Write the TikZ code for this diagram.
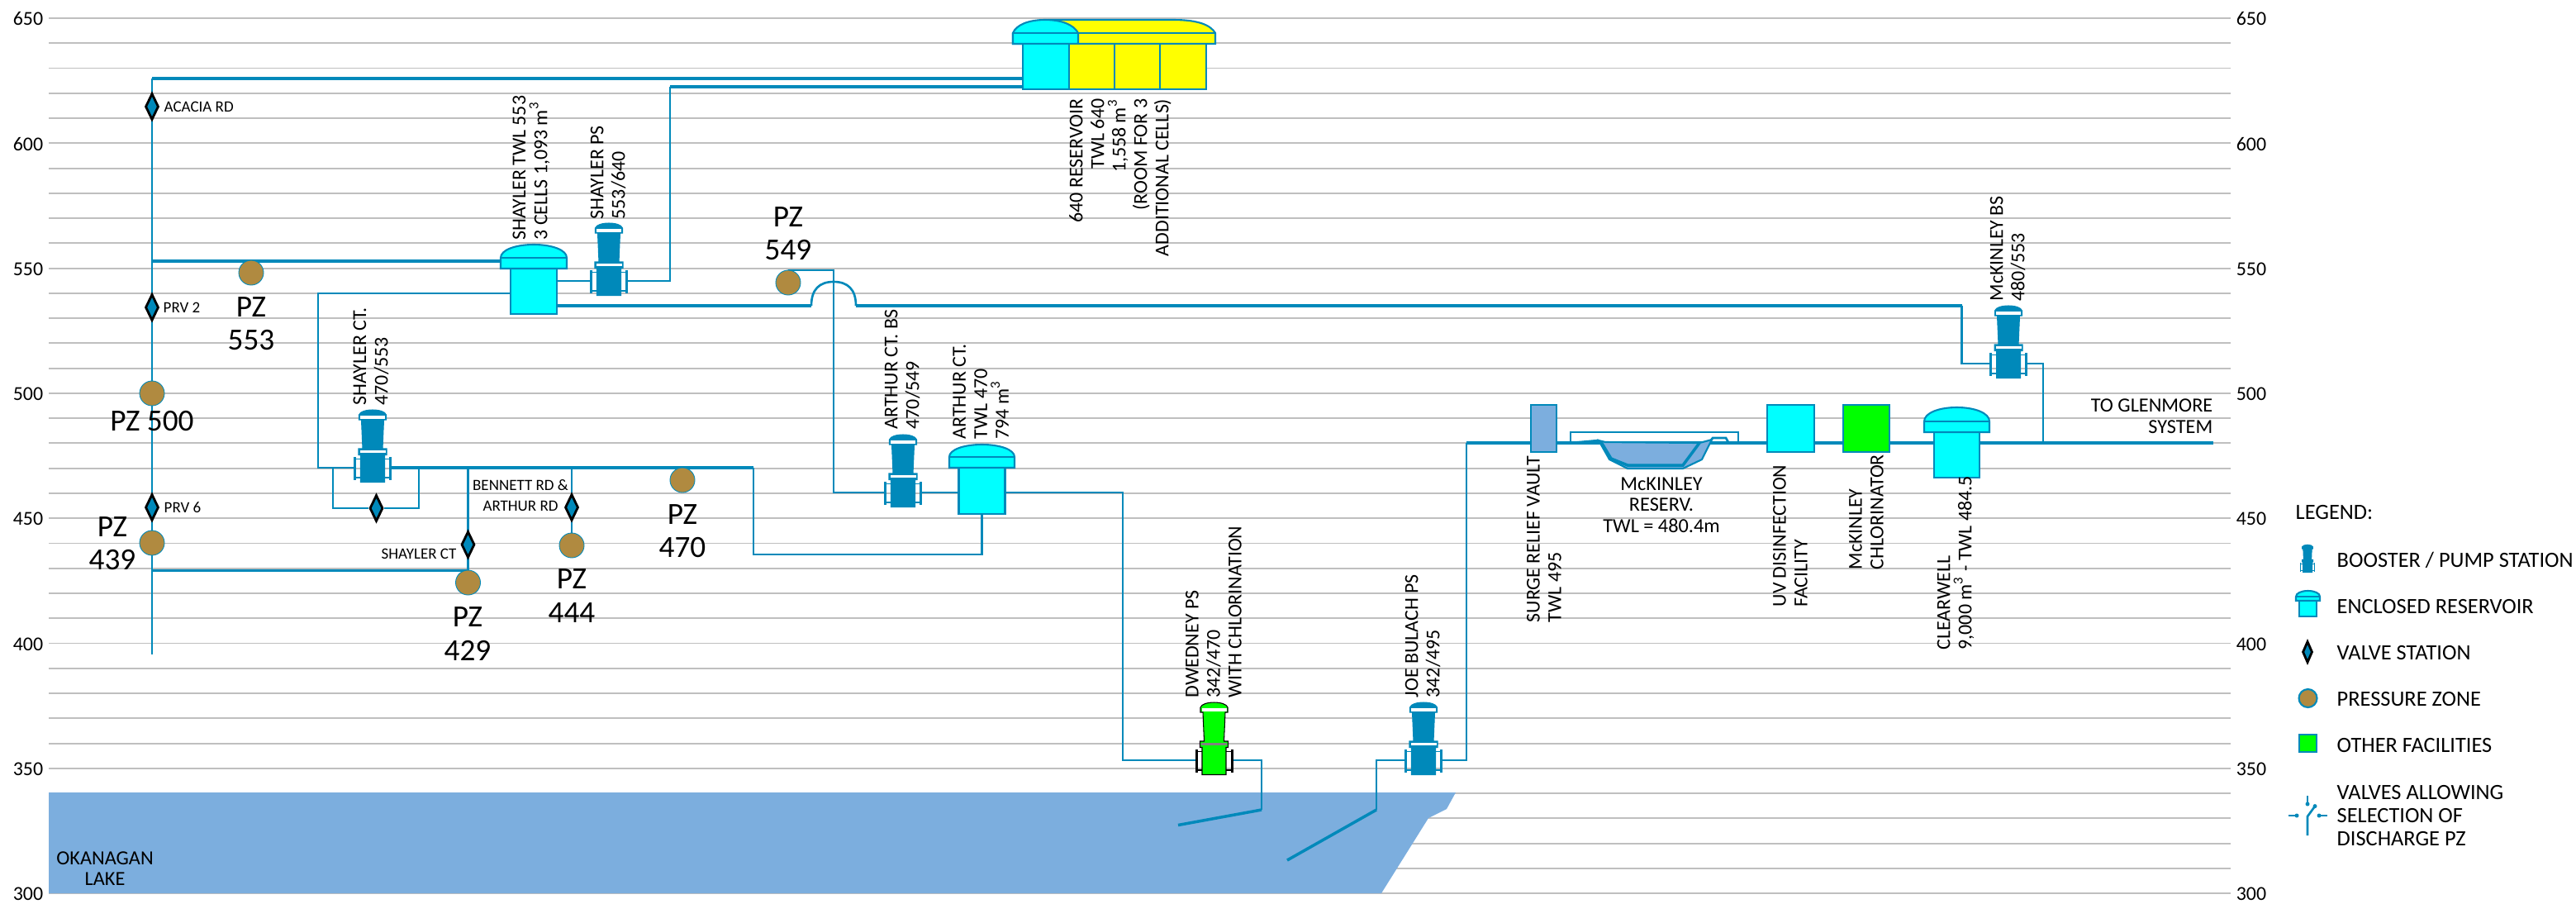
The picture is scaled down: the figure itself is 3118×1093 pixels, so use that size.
\documentclass[tikz,border=0pt]{standalone}
\usepackage{fontspec}
\setmainfont{Carlito}
\usetikzlibrary{calc,shapes.geometric}
\pgfdeclarelayer{back}
\pgfdeclarelayer{pipes}
\pgfsetlayers{back,pipes,main}
\definecolor{pipeblue}{HTML}{0089BA}
\definecolor{lakeblue}{HTML}{7CAEDE}
\definecolor{rescyan}{HTML}{00FFFF}
\definecolor{resyellow}{HTML}{FFFF00}
\definecolor{facgreen}{HTML}{00FF00}
\definecolor{pzbrown}{HTML}{B08A40}
\definecolor{gridgray}{HTML}{BFBFBF}
\tikzset{
  gridline/.style={draw=gridgray,line width=.55pt},
  pipe/.style={draw=pipeblue,line width=.75pt},
  mainpipe/.style={draw=pipeblue,line width=1pt},
  resline/.style={draw=pipeblue,line width=.6pt},
  pz/.style={circle,fill=pzbrown,draw=pipeblue,line width=.25pt,minimum size=.3cm,inner sep=0},
  valve/.style={diamond,aspect=.5,fill=pipeblue,draw=black,line width=.8pt,minimum width=.16cm,minimum height=.32cm,inner sep=0},
  facility/.style={rectangle,resline,inner sep=0,minimum width=#1},
  ticklbl/.style={font=\fontsize{6.8}{8}\selectfont},
  smalllbl/.style={font=\fontsize{5.4}{7.1}\selectfont,align=center},
  lbl/.style={font=\fontsize{6.9}{7.3}\selectfont,align=center},
  vlbl/.style={font=\fontsize{6.8}{7.4}\selectfont,rotate=90,align=left,anchor=west,inner sep=0},
  pzlbl/.style={font=\fontsize{10.6}{11.4}\selectfont,align=center},
  legendlbl/.style={font=\fontsize{7.5}{8}\selectfont,align=left,anchor=west,inner sep=0},
  pics/rsv/.style n args={5}{code={
    \filldraw[resline,fill=rescyan] (-#2,0) rectangle (#2,#5);
    \filldraw[resline,fill=rescyan] (-#1,0) -- (-#1,-#4) .. controls (-#1,{-#4-.6*#3}) and ({-.55*#1},{-#4-#3}) .. (0,{-#4-#3}) .. controls ({.55*#1},{-#4-#3}) and (#1,{-#4-.6*#3}) .. (#1,-#4) -- (#1,0) -- cycle;
    \draw[resline] (-#1,-#4) -- (#1,-#4);
    \coordinate (-w) at (-#2,0); \coordinate (-e) at (#2,0); \coordinate (-s) at (0,#5); \coordinate (-d) at (-#1,0);
  }},
  pics/pumpst/.style n args={4}{code={
    \filldraw[fill=#1,draw=#2,line width=.3pt] (-16.5,-58) -- (-16.5,-64) .. controls (-14,-72) and (14,-72) .. (16.5,-64) -- (16.5,-58) -- (13.5,-58) -- (12,-23) -- (17,-23) -- (17,-15.5) -- (14.5,-15.5) -- (14.5,17.5) -- (-14.5,17.5) -- (-14.5,-15.5) -- (-17,-15.5) -- (-17,-23) -- (-12,-23) -- (-13.5,-58) -- cycle;
    \fill[#3] (-15,-63) rectangle (15,-59);
    \fill[#4] (-15.5,-21) rectangle (15.5,-18);
    \foreach \s in {-1,1}{
      \fill[#2] (\s*20,-13.5) rectangle (\s*23,14.5);
      \fill[#2] (\s*14.5,-11.5) rectangle (\s*21,-10);
      \fill[#2] (\s*14.5,11) rectangle (\s*21,12.5);
    }
    \coordinate (-l) at (-23,0); \coordinate (-r) at (23,0);
  }}
}
\begin{document}
\begin{tikzpicture}[x=0.01cm,y=-0.01cm]
\useasboundingbox (0,0) rectangle (3118,1093);
% elevation grid and lake
\begin{pgfonlayer}{back}
\foreach \k in {0,...,35}{\draw[gridline] (59,{22+30.26*\k}) -- (2700,{22+30.26*\k});}
\fill[lakeblue] (59,959) -- (1762,959) -- (1751,979) -- (1729,990) -- (1672,1081) -- (59,1081) -- cycle;
\end{pgfonlayer}
\foreach \z/\k in {650/0,600/5,550/10,500/15,450/20,400/25,350/30,300/35}{
  \node[ticklbl] (tickl\z) at (34,{23+30.26*\k}) {\z};
  \node[ticklbl] (tickr\z) at (2725,{23+30.26*\k}) {\z};
}
\node[lbl] (lake) at (127,1051) {OKANAGAN\\LAKE};
% 640 reservoir
\filldraw[resline,fill=resyellow] (1226,53) -- (1226,40) .. controls (1235,30) and (1250,24) .. (1270,24) -- (1420,24) .. controls (1450,24) and (1465,30) .. (1471,40) -- (1471,53) -- cycle;
\filldraw[resline,fill=rescyan] (1226,53) -- (1226,40) .. controls (1230,30) and (1245,24) .. (1265,24) .. controls (1285,24) and (1300,30) .. (1305,40) -- (1305,53) -- cycle;
\draw[resline] (1226,40) -- (1471,40);
\filldraw[resline,fill=resyellow] (1238,53) rectangle (1460,108);
\filldraw[resline,fill=rescyan] (1238,53) rectangle (1294,108);
\draw[resline] (1349,53) -- (1349,108); \draw[resline] (1404,53) -- (1404,108);
\coordinate (rsv640-w) at (1238,80);
\node[vlbl,anchor=east,align=right] (lbl640) at (1356,119) {640 RESERVOIR\\TWL 640\\1,558 m\textsuperscript{3}\\(ROOM FOR 3\\ADDITIONAL CELLS)};
% reservoirs and pump stations
\pic (rsvShay) at (646,325) {rsv={40}{28}{16}{13}{55}};
\pic (rsvArth) at (1188.5,566) {rsv={39.5}{28}{15}{13}{56}};
\pic (rsvClear) at (2368.5,523) {rsv={39.5}{27.5}{17}{13}{55}};
\pic (pmpShay) at (737,340) {pumpst={pipeblue}{pipeblue}{white}{white}};
\pic (pmpShCt) at (451,566) {pumpst={pipeblue}{pipeblue}{white}{white}};
\pic (pmpArth) at (1093,596) {pumpst={pipeblue}{pipeblue}{white}{white}};
\pic (pmpDwed) at (1469.5,920) {pumpst={facgreen}{black}{white}{gray}};
\pic (pmpJoe) at (1723,920) {pumpst={pipeblue}{pipeblue}{white}{white}};
\pic (pmpMcK) at (2431,440) {pumpst={pipeblue}{pipeblue}{white}{white}};
\node[vlbl] (lblShRes) at (643,291) {SHAYLER TWL 553\\3 CELLS 1,093 m\textsuperscript{3}};
\node[vlbl] (lblShPs) at (736,266) {SHAYLER PS\\553/640};
\node[vlbl] (lblShCt) at (449,491) {SHAYLER CT.\\470/553};
\node[vlbl] (lblArBs) at (1092,520) {ARTHUR CT. BS\\470/549};
\node[vlbl] (lblArRes) at (1187,532) {ARTHUR CT.\\TWL 470\\794 m\textsuperscript{3}};
\node[vlbl] (lblDwed) at (1469,845) {DWEDNEY PS\\342/470\\WITH CHLORINATION};
\node[vlbl] (lblJoe) at (1722,845) {JOE BULACH PS\\342/495};
\node[vlbl] (lblSurge) at (1869,754) {SURGE RELIEF VAULT\\TWL 495};
\node[vlbl] (lblUv) at (2167,735) {UV DISINFECTION\\FACILITY};
\node[vlbl] (lblChl) at (2259,690) {McKINLEY\\CHLORINATOR};
\node[vlbl] (lblClear) at (2367,787) {CLEARWELL\\9,000 m\textsuperscript{3} - TWL 484.5};
\node[vlbl] (lblMcK) at (2430,365) {McKINLEY BS\\480/553};
% facilities on the 480 line
\node[facility=.31cm,fill=lakeblue,minimum height=.57cm] (surge) at (1868.5,518.5) {};
\node[facility=.57cm,fill=rescyan,minimum height=.57cm] (uv) at (2167.5,518.5) {};
\node[facility=.56cm,fill=facgreen,minimum height=.57cm] (chlor) at (2259,518.5) {};
\filldraw[resline,fill=lakeblue] (1935,533) -- (1948,556) -- (1970,567) -- (2037,567) -- (2060,556) -- (2072,532) -- (2057,536) -- (1943,535) -- cycle;
\draw[mainpipe] (1938,535) -- (1950,555) -- (1970,563) -- (2037,563) -- (2057,536);
\node[lbl] (mckres) at (2011,611) {McKINLEY\\RESERV.\\TWL = 480.4m};
\node[lbl,anchor=east,align=right,inner sep=0] (glen) at (2679,504) {TO GLENMORE\\SYSTEM};
% valves
\node[valve] (vAcacia) at (184,129) {};
\node[valve] (vPrv2) at (184,372) {};
\node[valve] (vPrv6) at (184,614) {};
\node[valve] (vBypass) at (455.5,615) {};
\node[valve] (vShCt) at (566.5,659) {};
\node[valve] (vBenn) at (692,614) {};
\node[smalllbl,anchor=west,inner sep=0] (lblAcacia) at (198,129) {ACACIA RD};
\node[smalllbl,anchor=west,inner sep=0] (lblPrv2) at (197,372) {PRV 2};
\node[smalllbl,anchor=west,inner sep=0] (lblPrv6) at (198,614) {PRV 6};
\node[smalllbl] (lblBenn) at (630,600) {BENNETT RD \&\\ARTHUR RD};
\node[smalllbl] (lblShVal) at (507,670) {SHAYLER CT};
% pressure zones
\foreach \nm/\x/\y in {A/304/330,B/184/476,C/954/342,D/184/657,E/566.5/705,F/692/660,G/826/581}{
  \node[pz] (pz\nm) at (\x,\y) {};
}
\node[pzlbl] (lblA) at (304,392) {PZ\\553};
\node[pzlbl] (lblB) at (184,510) {PZ 500};
\node[pzlbl] (lblC) at (954,283) {PZ\\549};
\node[pzlbl] (lblD) at (136,658) {PZ\\439};
\node[pzlbl] (lblE) at (566,767) {PZ\\429};
\node[pzlbl] (lblF) at (692,721) {PZ\\444};
\node[pzlbl] (lblG) at (826,643) {PZ\\470};
% pipes
\begin{pgfonlayer}{pipes}
\coordinate (mainTop) at (184,95); \coordinate (mainEnd) at (184,792);
\coordinate (j640) at (811,105); \coordinate (jShay) at (811,340);
\coordinate (j553) at (184,316); \coordinate (jShCtT) at (385,355); \coordinate (jShCtB) at (385,566);
\coordinate (jHopL) at (982,370); \coordinate (jHopR) at (1036,370);
\coordinate (j549) at (1009,327); \coordinate (jArB) at (1009,596);
\coordinate (jL1) at (912,566); \coordinate (jL2) at (912,671);
\coordinate (jDw1) at (1359,596); \coordinate (jDw2) at (1359,920);
\coordinate (jDw3) at (1527,920); \coordinate (jDw4) at (1527,980); \coordinate (jDw5) at (1426,998.5);
\coordinate (jJo1) at (1666,920); \coordinate (jJo2) at (1666,980); \coordinate (jJo3) at (1558,1041);
\coordinate (jJo4) at (1775,920); \coordinate (jJo5) at (1775,536);
\coordinate (jMk1) at (2374.5,370); \coordinate (jMk2) at (2374.5,440);
\coordinate (jMk3) at (2473,440); \coordinate (jMk4) at (2473,536); \coordinate (jEnd) at (2679,536);
\coordinate (jBy1) at (403,566); \coordinate (jBy2) at (403,615); \coordinate (jBy3) at (507,615); \coordinate (jBy4) at (507,566);
\coordinate (jSc1) at (566.5,566); \coordinate (jSc2) at (566.5,690.5); \coordinate (jSc3) at (184,690.5);
\coordinate (jBn1) at (692,566);
\draw[pipe] (mainTop) -- (mainEnd);
\draw[mainpipe] (mainTop) -- (mainTop -| rsv640-w);
\draw[mainpipe] (j640 -| rsv640-w) -- (j640);
\draw[pipe] (j640) -- (jShay) -- (pmpShay-r);
\draw[pipe] (rsvShay-e |- pmpShay-l) -- (pmpShay-l);
\draw[mainpipe] (j553) -- (rsvShay-d |- j553);
\draw[pipe] (rsvShay-w |- jShCtT) -- (jShCtT) -- (jShCtB) -- (pmpShCt-l);
\draw[mainpipe] (rsvShay-e |- jHopL) -- (jHopL);
\draw[pipe] (jHopL) .. controls (982,350) and (992,341) .. (1009,341) .. controls (1026,341) and (1036,350) .. (jHopR);
\draw[mainpipe] (jHopR) -- (jMk1);
\draw[pipe] (jMk1) -- (jMk2) -- (pmpMcK-l);
\draw[pipe] (pmpMcK-r) -- (jMk3) -- (jMk4);
\draw[pipe] (pzC) -- (pzC |- j549) -- (j549) -- (jArB) -- (pmpArth-l);
\draw[pipe] (pmpArth-r) -- (rsvArth-w |- pmpArth-r);
\draw[mainpipe] (pmpShCt-r) -- (jL1);
\draw[pipe] (jL1) -- (jL2) -- (jL2 -| rsvArth-s) -- (rsvArth-s);
\draw[pipe] (rsvArth-e |- jDw1) -- (jDw1) -- (jDw2) -- (pmpDwed-l);
\draw[pipe] (pmpDwed-r) -- (jDw3) -- (jDw4);
\draw[mainpipe] (jDw4) -- (jDw5);
\draw[pipe] (pmpJoe-l) -- (jJo1) -- (jJo2);
\draw[mainpipe] (jJo2) -- (jJo3);
\draw[pipe] (pmpJoe-r) -- (jJo4) -- (jJo5);
\draw[mainpipe] (jJo5) -- (jEnd);
\draw[pipe] (jBy1) -- (jBy2) -- (vBypass) -- (jBy3) -- (jBy4);
\draw[pipe] (jSc1) -- (jSc2);
\draw[mainpipe] (jSc2) -- (jSc3);
\draw[pipe] (jBn1) -- (pzF);
\draw[pipe] (1901,536) -- (1901,523) -- (2104,523) -- (2104,536);
\draw[pipe] (1901,536) -- (1935,533);
\draw[pipe] (2068,537) -- (2073,530) -- (2089,530) -- (2093,537);
\end{pgfonlayer}
% legend
\node[legendlbl] (legTitle) at (2778,620) {LEGEND:};
\pic[scale=.38] (legPump) at (2793,686) {pumpst={pipeblue}{pipeblue}{pipeblue}{pipeblue}};
\pic (legRes) at (2793.5,727) {rsv={14.5}{10.5}{7}{5}{19}};
\node[valve,minimum width=.12cm,minimum height=.26cm] (legValve) at (2793,789) {};
\node[pz,minimum size=.22cm,line width=.6pt] (legPz) at (2793.5,845) {};
\node[rectangle,fill=facgreen,resline,minimum size=.21cm,inner sep=0] (legOther) at (2793.5,899.5) {};
\node[legendlbl] (legA) at (2828,678) {BOOSTER / PUMP STATION};
\node[legendlbl] (legB) at (2828,734) {ENCLOSED RESERVOIR};
\node[legendlbl] (legC) at (2828,790) {VALVE STATION};
\node[legendlbl] (legD) at (2828,846) {PRESSURE ZONE};
\node[legendlbl] (legE) at (2828,902) {OTHER FACILITIES};
\node[legendlbl] (legF) at (2828,987) {VALVES ALLOWING\\SELECTION OF\\DISCHARGE PZ};
\draw[pipe] (2793,963) -- (2793,973); \fill[pipeblue] (2793,973) circle (2.5);
\draw[pipe] (2793,1011) -- (2793,988) -- (2802,975.6); \fill[pipeblue] (2802,975.6) circle (2.5);
\draw[pipe] (2770,987) -- (2780,987); \fill[pipeblue] (2780,987) circle (2.5);
\draw[pipe] (2807,987) -- (2817,987); \fill[pipeblue] (2807,987) circle (2.5);
\end{tikzpicture}
\end{document}
